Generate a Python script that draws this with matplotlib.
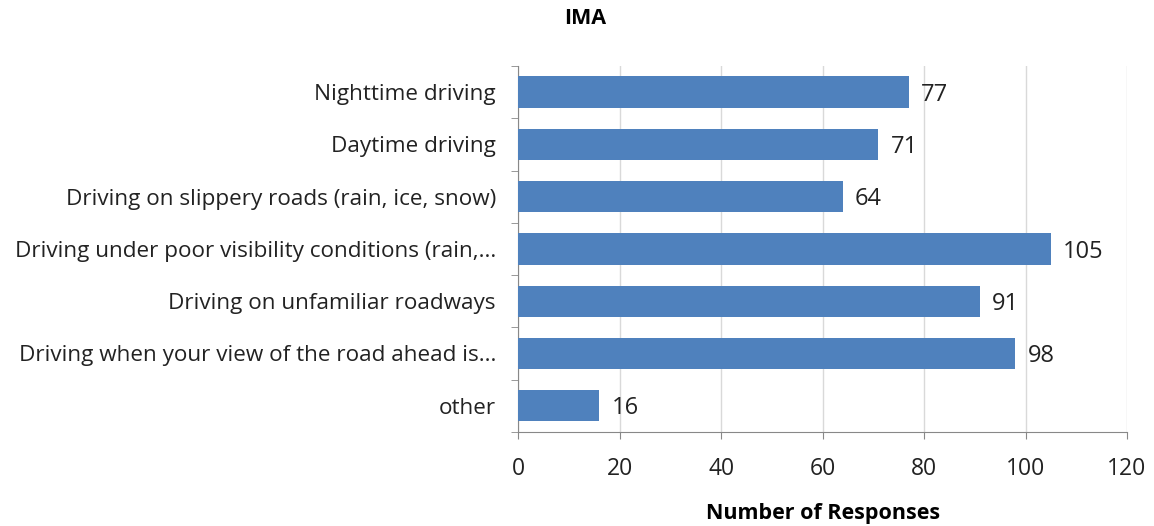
import matplotlib.pyplot as plt
import numpy as np

categories = ['Nighttime driving', 'Daytime driving',
              'Driving on slippery roads (rain, ice, snow)',
              'Driving under poor visibility conditions (rain,...',
              'Driving on unfamiliar roadways',
              'Driving when your view of the road ahead is...',
              'other']
responses = [77, 71, 64, 105, 91, 98, 16]
x_ticks = [0, 20, 40, 60, 80, 100, 120]

plt.rcParams['font.family'] = ['Open Sans', 'DejaVu Sans']

fig = plt.figure(figsize=(11.54, 5.26), dpi=100)
ax = fig.add_axes([0.449, 0.179, 0.5276, 0.6955])

y = np.arange(len(categories))
ax.barh(y, responses, height=0.6, color='#4F81BD', zorder=3)
for yi, v in zip(y, responses):
    ax.text(v + 2.4, yi + 0.05, str(v), va='center', ha='left', fontsize=17, color='#222222')

ax.set_ylim(len(categories) - 0.5, -0.5)
ax.set_xlim(0, 120)
ax.set_xticks(x_ticks)
ax.set_yticks(y)
ax.set_yticklabels(categories, fontsize=16.2, color='#222222')
ax.set_yticks(np.arange(len(categories) + 1) - 0.5, minor=True)
ax.tick_params(axis='y', which='major', length=0, pad=16)
ax.tick_params(axis='y', which='minor', length=5, color='#888888')
ax.tick_params(axis='x', length=5, color='#888888', labelsize=16.5, labelcolor='#222222', pad=13)

ax.grid(axis='x', color='#D9D9D9', linewidth=1, zorder=0)
for s in ['top', 'right']:
    ax.spines[s].set_visible(False)
for s in ['left', 'bottom']:
    ax.spines[s].set_color('#888888')

ax.set_xlabel('Number of Responses', fontsize=15.5, fontweight='bold', labelpad=16)
fig.text(0.507, 0.965, 'IMA', fontsize=15.5, fontweight='bold', ha='center', va='center')

fig.savefig('out.png', dpi=100)
